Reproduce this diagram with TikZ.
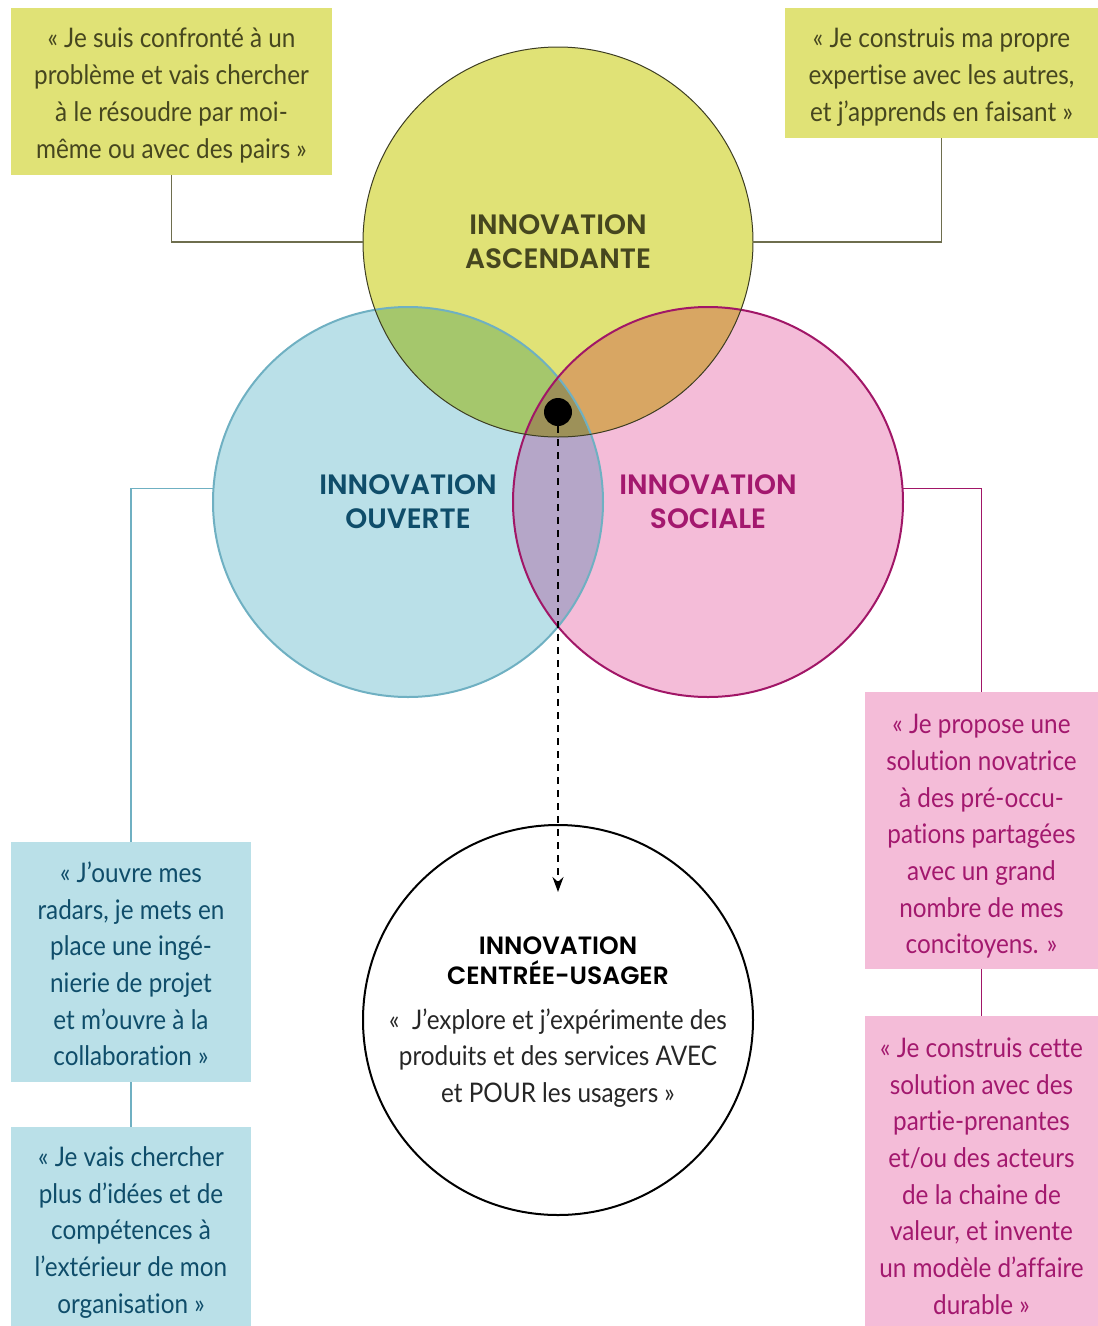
\documentclass[tikz,border=0pt]{standalone}
\usepackage{fontspec}
\setmainfont{Lato}[FakeStretch=0.9, Ligatures=NoCommon]
\newfontfamily\headfont{Poppins SemiBold}
\usetikzlibrary{arrows.meta}

\definecolor{ascfill}{HTML}{E0E276}
\definecolor{ascline}{HTML}{3D3D22}
\definecolor{asctext}{HTML}{46461F}
\definecolor{asclink}{HTML}{6E6E4E}
\definecolor{ouvfill}{HTML}{BAE0E8}
\definecolor{ouvline}{HTML}{6FB0C2}
\definecolor{ouvtext}{HTML}{0F4D6A}
\definecolor{socfill}{HTML}{F4BCD8}
\definecolor{socline}{HTML}{A11667}
\definecolor{soctext}{HTML}{A3186E}
\definecolor{ascouv}{HTML}{A5C76C}
\definecolor{ascsoc}{HTML}{D8A663}
\definecolor{ouvsoc}{HTML}{B5A6C8}
\definecolor{allthree}{HTML}{9D9159}

\tikzset{
  venn/.style={circle, minimum size=390pt, inner sep=0pt, align=center,
    font=\headfont\fontsize{28}{34}\selectfont},
  qtext/.style={inner sep=0pt, align=center, font=\fontsize{27}{36.7}\selectfont},
  qbox/.style={inner sep=0pt},
  link/.style={line width=1.6pt}
}

\begin{document}
\begin{tikzpicture}[x=1pt,y=-1pt,>={Stealth[length=15pt,width=11pt]}]
 \useasboundingbox (0,0) rectangle (1098,1326);
 % the three circles
 \node[venn, fill=ascfill, text=asctext] (asc) at (558,242) {INNOVATION\\ASCENDANTE};
 \node[venn, fill=ouvfill, text=ouvtext] (ouv) at (408,502) {INNOVATION\\OUVERTE};
 \node[venn, fill=socfill, text=soctext] (soc) at (708,502) {INNOVATION\\SOCIALE};
 % overlaps
 \begin{scope}
  \clip (asc.center) circle[radius=195pt];
  \fill[ascouv] (ouv.center) circle[radius=195pt];
  \fill[ascsoc] (soc.center) circle[radius=195pt];
 \end{scope}
 \begin{scope}
  \clip (ouv.center) circle[radius=195pt];
  \fill[ouvsoc] (soc.center) circle[radius=195pt];
  \clip (soc.center) circle[radius=195pt];
  \fill[allthree] (asc.center) circle[radius=195pt];
 \end{scope}
 \draw[ouvline, line width=2pt] (ouv.center) circle[radius=195pt];
 \draw[socline, line width=2pt] (soc.center) circle[radius=195pt];
 \draw[ascline, line width=1pt] (asc.center) circle[radius=195pt];

 % user-centred circle
 \node[circle, draw, line width=2pt, fill=white, minimum size=390pt, inner sep=0pt] (usr) at (558,1020) {};
 \node[font=\headfont\fontsize{25}{30}\selectfont, align=center, inner sep=0pt] (usrhead) at (558,961) {INNOVATION\\CENTRÉE-USAGER};
 \node[qtext, text=black!85] (usrquote) at (558,1058) {«~ J’explore et j’expérimente des\\produits et des services AVEC\\et POUR les usagers »};

 % quotes
 \node[qbox, fill=ascfill, minimum width=321pt, minimum height=167pt,
  label={[qtext, text=asctext, yshift=-4pt]center:{« Je suis confronté à un\\problème et vais chercher\\à le résoudre par moi-\\même ou avec des pairs »}}] (tlq) at (171.5,91.5) {};
 \node[qbox, fill=ascfill, minimum width=313pt, minimum height=130pt,
  label={[qtext, text=asctext, yshift=-4pt]center:{« Je construis ma propre\\expertise avec les autres,\\et j’apprends en faisant »}}] (trq) at (941.5,73) {};
 \node[qbox, fill=ouvfill, minimum width=240pt, minimum height=240pt,
  label={[qtext, text=ouvtext, yshift=-2pt]center:{« J’ouvre mes\\radars, je mets en\\place une ingé-\\nierie de projet\\et m’ouvre à la\\collaboration »}}] (ouvq1) at (131,962) {};
 \node[qbox, fill=ouvfill, minimum width=240pt, minimum height=199pt,
  label={[qtext, text=ouvtext, yshift=-6pt]center:{« Je vais chercher\\plus d’idées et de\\compétences à\\l’extérieur de mon\\organisation »}}] (ouvq2) at (131,1226.5) {};
 \node[qbox, fill=socfill, minimum width=233pt, minimum height=277pt,
  label={[qtext, text=soctext, yshift=-6pt]center:{« Je propose une\\solution novatrice\\à des pré-occu-\\pations partagées\\avec un grand\\nombre de mes\\concitoyens. »}}] (socq1) at (981.5,830.5) {};
 \node[qbox, fill=socfill, minimum width=233pt, minimum height=310pt,
  label={[qtext, text=soctext, yshift=-5pt]center:{« Je construis cette\\solution avec des\\partie-prenantes\\et/ou des acteurs\\de la chaine de\\valeur, et invente\\un modèle d’affaire\\durable »}}] (socq2) at (981.5,1171) {};

 % links
 \draw[link, asclink] (tlq.south) |- (asc.west);
 \draw[link, asclink] (trq.south) |- (asc.east);
 \draw[link, ouvline] (ouv.176) -| (ouvq1.north);
 \draw[link, ouvline] (ouvq1.south) -- (ouvq2.north);
 \draw[link, socline] (soc.4) -| (socq1.north);
 \draw[link, socline] (socq1.south) -- (socq2.north);

 % centre point and arrow
 \node[circle, fill=black, minimum size=28pt, inner sep=0pt] (dot) at (558,412) {};
 \coordinate (tip) at (558,892);
 \draw[->, line width=1.6pt, dash pattern=on 7pt off 6pt] (dot.south) -- (tip);
\end{tikzpicture}
\end{document}
